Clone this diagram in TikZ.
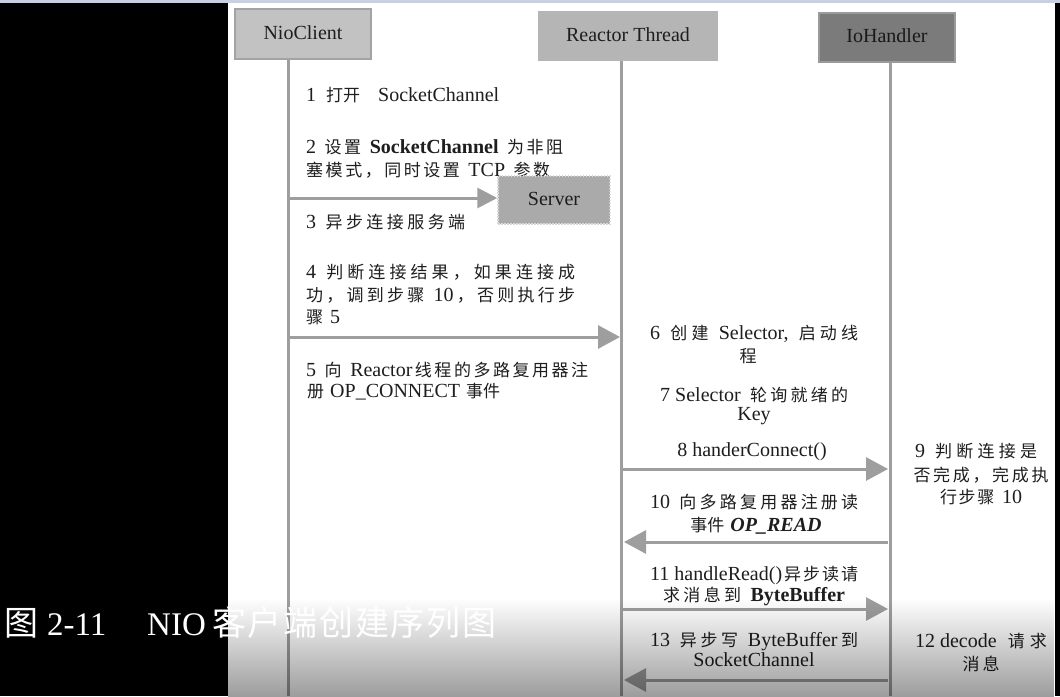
\documentclass[tikz,border=0pt]{standalone}
\usepackage{fontspec}
\setmainfont{Liberation Serif}
\newfontfamily\cjkf[Scale=0.85]{Noto Sans CJK SC}
\newfontfamily\capcjk{Noto Sans CJK SC}
\usetikzlibrary{arrows.meta,fadings}
\tikzfading[name=fadedown, top color=transparent!100, bottom color=transparent!0]
\definecolor{strip}{HTML}{C8D1E3}
\definecolor{lifeg}{HTML}{9E9E9E}
\definecolor{hdrA}{HTML}{C2C2C2}
\definecolor{hdrAb}{HTML}{A3A3A3}
\definecolor{hdrB}{HTML}{B5B5B5}
\definecolor{hdrC}{HTML}{7B7B7B}
\definecolor{hdrCb}{HTML}{9A9A9A}
\definecolor{srvfill}{HTML}{AAAAAA}
\definecolor{srvline}{HTML}{D8D8D8}
\definecolor{txtc}{HTML}{1E1E1E}
\def\zsend{zsend-marker}
\def\zsA#1{#1\zsB}
\def\zsB#1{\ifx#1\zsend\else\hskip0pt plus1fil\relax#1\expandafter\zsB\fi}
\newcommand\zsp[1]{\zsA#1\zsend}
\newcommand\zs[1]{{\cjkf\zsp{#1}}}
\newcommand\zh[1]{{\cjkf #1}}
\newcommand\G{\hskip6pt plus1fil\relax}
\newcommand\g{\hskip0pt plus1fil\relax}
\begin{document}
\begin{tikzpicture}[x=1pt,y=-1pt,
  hdr/.style={minimum height=50pt, inner sep=0pt, text height=14pt, text depth=4pt,
    font=\fontsize{20}{24}\selectfont, text=txtc},
  life/.style={draw=lifeg, line width=3pt},
  msg/.style={draw=lifeg, line width=3pt, -{Triangle[length=22pt,width=23pt]}},
  msgs/.style={draw=lifeg, line width=3pt, -{Triangle[length=20pt,width=20pt]}},
  lbl/.style={inner sep=0pt, font=\fontsize{20}{24}\selectfont, text=txtc},
  captxt/.style={inner sep=0pt, text=white, anchor=base west}]
\useasboundingbox (0,0) rectangle (1060,696);
% background
\fill[black] (0,0) rectangle (1060,696);
\fill[white] (228,3) rectangle (1055,696);
\fill[strip] (0,0) rectangle (1060,3);

% headers
\node[hdr, minimum width=136pt, fill=hdrA, draw=hdrAb, line width=2pt] (nio) at (303,34) {NioClient};
\node[hdr, minimum width=180pt, fill=hdrB] (rt) at (628,36) {Reactor Thread};
\node[hdr, minimum width=136pt, minimum height=49pt, fill=hdrC, draw=hdrCb, line width=2pt, text=black!90] (ioh) at (887,37.5) {IoHandler};

% lifelines
\coordinate (nioB) at (288,696);
\coordinate (rtB) at (621,696);
\coordinate (iohB) at (890,696);
\draw[life] (nio.south -| nioB) -- (nioB);
\draw[life] (rt.south -| rtB) -- (rtB);
\draw[life] (ioh.south -| iohB) -- (iohB);

% left column texts
\node[lbl, anchor=base west] (t1) at (306,101) {1\hspace{10pt}\zh{打开}\hspace{18pt}SocketChannel};
\node[lbl, anchor=base west] (t2a) at (306,153) {\makebox[257pt][s]{2\G\zs{设置}\G\textbf{SocketChannel}\G\zs{为非阻}}};
\node[lbl, anchor=base west] (t2b) at (306,176) {\makebox[244pt][s]{\zs{塞模式，同时设置}\G TCP\G\zs{参数}}};
\node[lbl, anchor=base west] (t3) at (306,228) {\makebox[159pt][s]{3\G\zs{异步连接服务端}}};
\node[lbl, anchor=base west] (t4a) at (306,278) {\makebox[269pt][s]{4\G\zs{判断连接结果，如果连接成}}};
\node[lbl, anchor=base west] (t4b) at (306,301) {\makebox[269pt][s]{\zs{功，调到步骤}\G 10\g\zs{，否则执行步}}};
\node[lbl, anchor=base west] (t4c) at (306,323) {\zh{骤}\hspace{7pt}5};
\node[lbl, anchor=base west] (t5a) at (306,376) {\makebox[282pt][s]{5\G\zh{向}\G Reactor\g\zs{线程的多路复用器注}}};
\node[lbl, anchor=base west] (t5b) at (307,397) {\zh{册}\hspace{6pt}OP\_CONNECT\hspace{6pt}\zs{事件}};

% middle column texts
\node[lbl, anchor=base west] (t6a) at (650,339) {\makebox[208pt][s]{6\G\zs{创建}\G Selector,\G\zs{启动线}}};
\node[lbl, anchor=base] (t6b) at (748,362) {\zh{程}};
\node[lbl, anchor=base west] (t7a) at (660,401) {\makebox[188pt][s]{7 Selector\G\zs{轮询就绪的}}};
\node[lbl, anchor=base] (t7b) at (754,420) {Key};
\node[lbl, anchor=base] (t8) at (752,456) {8 handerConnect()};
\node[lbl, anchor=base west] (t10a) at (650,508) {\makebox[208pt][s]{10\G\zs{向多路复用器注册读}}};
\node[lbl, anchor=base] (t10b) at (756,531) {\zh{事件}\hspace{6pt}\textbf{\textit{OP\_READ}}};
\node[lbl, anchor=base west] (t11a) at (650,580) {\makebox[208pt][s]{11 handleRead()\g\zs{异步读请}}};
\node[lbl, anchor=base] (t11b) at (754,601) {\makebox[182pt][s]{\zs{求消息到}\G\textbf{ByteBuffer}}};
\node[lbl, anchor=base west] (t13a) at (650,646) {\makebox[208pt][s]{13\G\zs{异步写}\G ByteBuffer\g\zh{到}}};
\node[lbl, anchor=base] (t13b) at (754,666) {SocketChannel};

% right column texts
\node[lbl, anchor=base] (t9a) at (976,457) {\makebox[122pt][s]{9\G\zs{判断连接是}}};
\node[lbl, anchor=base] (t9b) at (981,481) {\makebox[135pt][s]{\zs{否完成，完成执}}};
\node[lbl, anchor=base] (t9c) at (981,503) {\makebox[82pt][s]{\zs{行步骤}\G 10}};
\node[lbl, anchor=base] (t12a) at (981,647) {\makebox[132pt][s]{12 decode\G\zs{请求}}};
\node[lbl, anchor=base] (t12b) at (981,670) {\makebox[37pt][s]{\zs{消息}}};

% server box
\node[minimum width=112pt, minimum height=48pt, inner sep=0pt, fill=srvfill,
  draw=srvline, line width=1.5pt, dash pattern=on 1.5pt off 1.5pt,
  font=\fontsize{20}{24}\selectfont, text=txtc, text height=14pt, text depth=4pt] (srv) at (554,200) {Server};

% messages
\coordinate (m1s) at (290,198);
\coordinate (m2s) at (290,337);
\coordinate (m2e) at (620,337);
\coordinate (m3s) at (623,469);
\coordinate (m3e) at (888,469);
\coordinate (m4s) at (888,542);
\coordinate (m4e) at (624,542);
\coordinate (m5s) at (623,609);
\coordinate (m5e) at (888,609);
\coordinate (m6s) at (888,680);
\coordinate (m6e) at (624,680);
\draw[msgs] (m1s) -- (srv.west |- m1s);
\draw[msg] (m2s) -- (m2e);
\draw[msg] (m3s) -- (m3e);
\draw[msg] (m4s) -- (m4e);
\draw[msg] (m5s) -- (m5e);
\draw[msg] (m6s) -- (m6e);

% bottom darkening (ramp from y=600 to y=700)
\begin{scope}
\clip (228,598) rectangle (1055,696);
\fill[black, fill opacity=0.4, path fading=fadedown] (228,598) rectangle (1055,700);
\end{scope}

% caption
\node[captxt, font=\fontsize{34}{40}\selectfont\capcjk] (c1) at (4,635) {图};
\node[captxt, font=\fontsize{33}{40}\selectfont] (c2) at (47,635) {2-11};
\node[captxt, font=\fontsize{33}{40}\selectfont] (c3) at (147,635) {NIO};
\node[captxt, font=\fontsize{34}{40}\selectfont\capcjk] (c4) at (212,635) {\makebox[284pt][s]{\zsp{客户端创建序列图}}};
\end{tikzpicture}
\end{document}
